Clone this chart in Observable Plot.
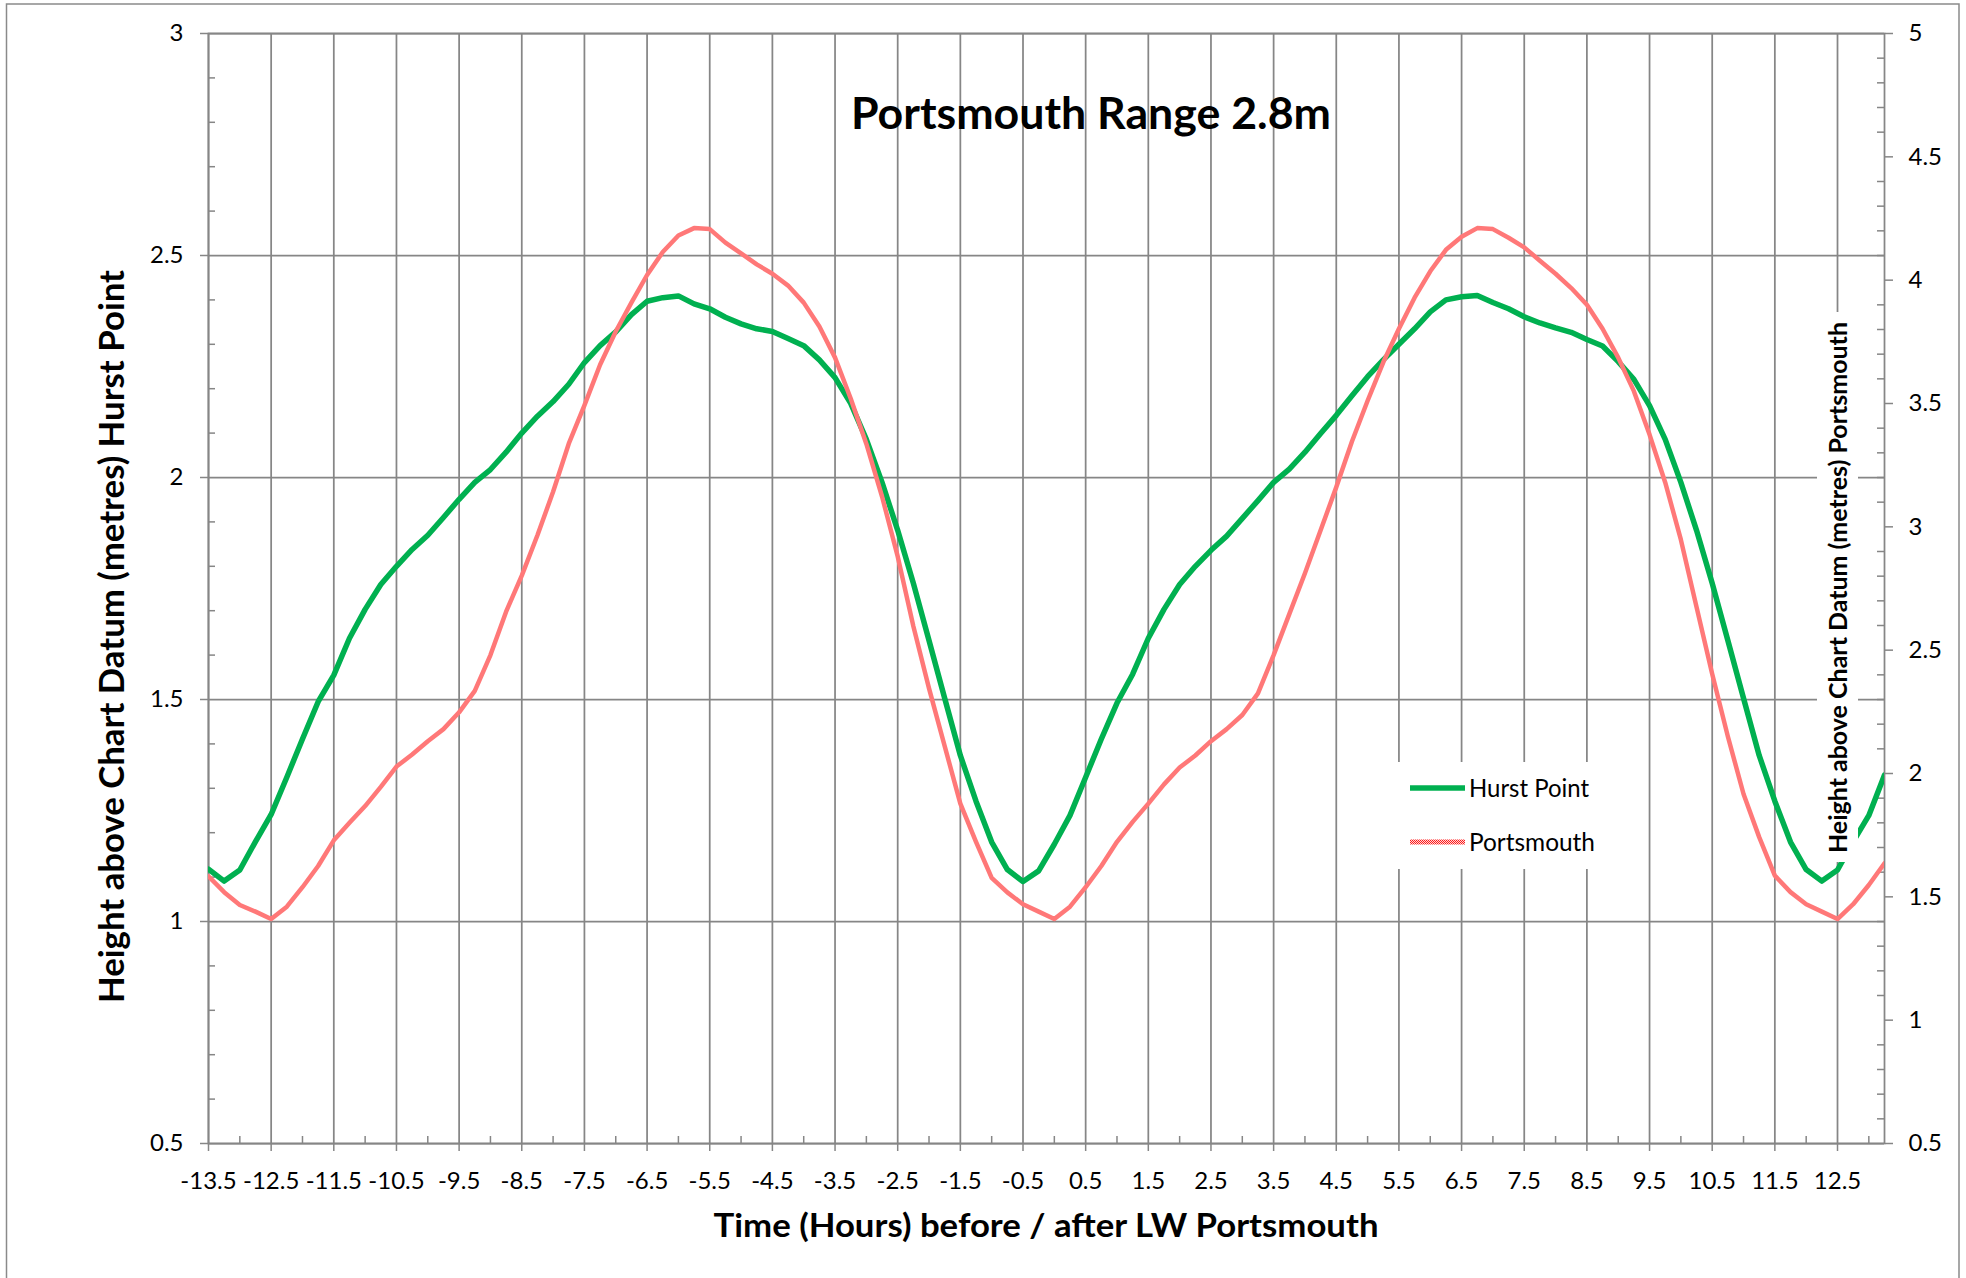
<!DOCTYPE html>
<html>
<head>
<meta charset="utf-8">
<script src="https://cdn.jsdelivr.net/npm/d3@7"></script>
<script src="https://cdn.jsdelivr.net/npm/@observablehq/plot@0.6"></script>
<style>
html, body { margin: 0; padding: 0; background: #fff; }
#chart { position: relative; width: 1966px; height: 1278px; overflow: hidden; }
</style>
</head>
<body>
<div id="chart"></div>
<script>
// ---- data ----
const hours = [-13.5,-13.25,-13,-12.75,-12.5,-12.25,-12,-11.75,-11.5,-11.25,-11,-10.75,-10.5,-10.25,-10,-9.75,-9.5,-9.25,-9,-8.75,-8.5,-8.25,-8,-7.75,-7.5,-7.25,-7,-6.75,-6.5,-6.25,-6,-5.75,-5.5,-5.25,-5,-4.75,-4.5,-4.25,-4,-3.75,-3.5,-3.25,-3,-2.75,-2.5,-2.25,-2,-1.75,-1.5,-1.25,-1,-0.75,-0.5,-0.25,0,0.25,0.5,0.75,1,1.25,1.5,1.75,2,2.25,2.5,2.75,3,3.25,3.5,3.75,4,4.25,4.5,4.75,5,5.25,5.5,5.75,6,6.25,6.5,6.75,7,7.25,7.5,7.75,8,8.25,8.5,8.75,9,9.25,9.5,9.75,10,10.25,10.5,10.75,11,11.25,11.5,11.75,12,12.25,12.5,12.75,13,13.25];

const hurstPoint = [
  1.118,1.091,1.116,1.180, 1.241,1.325,1.411,1.495, 1.555,1.638,1.703,1.759,
  1.800,1.838,1.870,1.910, 1.951,1.989,2.018,2.057, 2.100,2.138,2.171,2.210,
  2.259,2.297,2.328,2.367, 2.397,2.405,2.409,2.391, 2.380,2.361,2.346,2.335,
  2.329,2.313,2.297,2.265, 2.225,2.167,2.086,1.989, 1.881,1.762,1.633,1.503,
  1.374,1.271,1.179,1.117, 1.090,1.114,1.174,1.239, 1.325,1.411,1.492,1.557,
  1.638,1.703,1.759,1.800, 1.836,1.868,1.908,1.948, 1.989,2.019,2.057,2.099,
  2.140,2.184,2.227,2.265, 2.300,2.335,2.373,2.400, 2.407,2.410,2.394,2.380,
  2.362,2.348,2.337,2.327, 2.311,2.296,2.261,2.221, 2.162,2.086,1.989,1.881,
  1.762,1.633,1.503,1.374, 1.271,1.179,1.117,1.091, 1.116,1.180,1.239,1.330
];

const portsmouth = [
  1.583,1.519,1.467,1.440, 1.410,1.460,1.539,1.625, 1.729,1.800,1.868,1.946,
  2.028,2.077,2.131,2.180, 2.248,2.335,2.480,2.656, 2.802,2.966,3.142,3.337,
  3.492,3.657,3.792,3.909, 4.021,4.114,4.181,4.211, 4.207,4.152,4.109,4.064,
  4.026,3.978,3.909,3.812, 3.686,3.520,3.336,3.123, 2.880,2.597,2.345,2.111,
  1.878,1.723,1.577,1.518, 1.470,1.440,1.410,1.460, 1.539,1.625,1.723,1.804,
  1.878,1.956,2.024,2.073, 2.131,2.180,2.237,2.325, 2.480,2.646,2.812,2.986,
  3.161,3.346,3.511,3.667, 3.803,3.929,4.036,4.123, 4.176,4.211,4.207,4.172,
  4.133,4.079,4.026,3.968, 3.900,3.803,3.686,3.550, 3.374,3.180,2.948,2.675,
  2.403,2.150,1.917,1.742, 1.586,1.519,1.470,1.440, 1.410,1.470,1.548,1.636
];

const xTickLabels = ["-13.5","-12.5","-11.5","-10.5","-9.5","-8.5","-7.5","-6.5","-5.5","-4.5","-3.5","-2.5","-1.5","-0.5","0.5","1.5","2.5","3.5","4.5","5.5","6.5","7.5","8.5","9.5","10.5","11.5","12.5"];
const leftTickLabels = ["0.5","1","1.5","2","2.5","3"];
const rightTickLabels = ["0.5","1","1.5","2","2.5","3","3.5","4","4.5","5"];

const seriesNames = ["Hurst Point", "Portsmouth"];
const titleText = "Portsmouth Range 2.8m";
const xTitle = "Time (Hours) before / after LW Portsmouth";
const yLeftTitle = "Height above Chart Datum (metres) Hurst Point";
const yRightTitle = "Height above Chart Datum (metres) Portsmouth";

// ---- build ----
const leftDomain = [0.5, 3];
const rightDomain = [0.5, 5];
const toLeft = p => leftDomain[0] + (p - rightDomain[0]) * (leftDomain[1] - leftDomain[0]) / (rightDomain[1] - rightDomain[0]);
const toRight = v => rightDomain[0] + (v - leftDomain[0]) * (rightDomain[1] - rightDomain[0]) / (leftDomain[1] - leftDomain[0]);

const table = hours.map((h, i) => ({hour: h, hurst: hurstPoint[i], portsmouth: portsmouth[i]}));

const xMajor = xTickLabels.map(Number);
const leftMajor = leftTickLabels.map(Number);
const rightMajor = rightTickLabels.map(Number);
const xMinor = d3.range(-13, 13.01, 1);
const leftMinor = d3.range(5, 31).map(k => k / 10).filter(v => Math.abs(v * 2 - Math.round(v * 2)) > 1e-6);
const rightMinor = d3.range(5, 51).map(k => k / 10).filter(v => Math.abs(v * 2 - Math.round(v * 2)) > 1e-6);

const W = 1966, H = 1278, ML = 208, MR = 82, MT = 33, MB = 135;
const plotW = W - ML - MR, plotH = H - MT - MB;
const GRID = "#868686";
const gridStyle = {stroke: GRID, strokeOpacity: 1, strokeWidth: 1.75};
const tickStyle = {stroke: GRID, strokeWidth: 1.5};
const TICK_FONT = 24;

const GREEN = "#00B050";

const svg = Plot.plot({
  width: W, height: H,
  marginLeft: ML, marginRight: MR, marginTop: MT, marginBottom: MB,
  style: {fontFamily: "Lato, 'Open Sans', sans-serif", fontSize: "24px", color: "#000", background: "#fff", overflow: "visible"},
  x: {domain: [-13.5, 13.25]},
  y: {domain: leftDomain},
  marks: [
    Plot.gridX(xMajor, gridStyle),
    Plot.gridY(leftMajor, gridStyle),
    Plot.frame({stroke: GRID, strokeWidth: 1.75}),
    Plot.tickX(xMinor, {x: d => d, insetTop: plotH - 7, ...tickStyle}),
    Plot.tickY(leftMinor, {y: d => d, insetRight: plotW - 7, ...tickStyle}),
    Plot.tickY(rightMinor.map(toLeft), {y: d => d, insetLeft: plotW - 7, ...tickStyle}),
    Plot.axisX(xMajor, {anchor: "bottom", label: null, tickSize: 8, tickPadding: 20, tickFormat: d => String(d), stroke: GRID, strokeWidth: 1.5, fill: "#000", fontSize: TICK_FONT}),
    Plot.axisY(leftMajor, {anchor: "left", label: null, tickSize: 8, tickPadding: 17, tickFormat: d => String(d), stroke: GRID, strokeWidth: 1.5, fill: "#000", fontSize: TICK_FONT}),
    Plot.axisY(rightMajor.map(toLeft), {anchor: "right", label: null, tickSize: 8, tickPadding: 16, tickFormat: d => String(Math.round(toRight(d) * 10) / 10), stroke: GRID, strokeWidth: 1.5, fill: "#000", fontSize: TICK_FONT}),
    Plot.line(table, {x: "hour", y: "hurst", stroke: GREEN, strokeWidth: 5.5, strokeLinejoin: "round", clip: true}),
    Plot.line(table, {x: "hour", y: d => toLeft(d.portsmouth), stroke: "url(#pmPattern)", strokeWidth: 4.5, strokeLinejoin: "round", clip: true})
  ]
});

document.getElementById("chart").appendChild(svg);

const s = d3.select(svg);
// pattern for the textured Portsmouth line
const defs = s.insert("defs", ":first-child");
const pat = defs.append("pattern").attr("id", "pmPattern").attr("patternUnits", "userSpaceOnUse").attr("width", 2).attr("height", 2);
pat.append("rect").attr("width", 2).attr("height", 2).attr("fill", "#ffd6d6");
pat.append("rect").attr("x", 0).attr("y", 0).attr("width", 1).attr("height", 1).attr("fill", "#ff1a1a");
pat.append("rect").attr("x", 1).attr("y", 1).attr("width", 1).attr("height", 1).attr("fill", "#ff1a1a");

const overlay = s.append("g").attr("font-family", "Lato, 'Open Sans', sans-serif");

// outer chart border
overlay.append("rect").attr("x", 6.5).attr("y", 4).attr("width", 1952.5).attr("height", 1320)
  .attr("fill", "none").attr("stroke", "#8a8a8a").attr("stroke-width", 1.5);

// chart title
overlay.append("text").attr("x", 1091).attr("y", 129).attr("text-anchor", "middle")
  .attr("font-weight", 700).attr("font-size", 43).attr("textLength", 480).attr("lengthAdjust", "spacingAndGlyphs")
  .attr("fill", "#000").text(titleText);

// x axis title
overlay.append("text").attr("x", 1046).attr("y", 1237).attr("text-anchor", "middle")
  .attr("font-weight", 700).attr("font-size", 32).attr("textLength", 665).attr("lengthAdjust", "spacingAndGlyphs")
  .attr("fill", "#000").text(xTitle);

// left y axis title
overlay.append("text").attr("transform", "translate(124,636.5) rotate(-90)").attr("text-anchor", "middle")
  .attr("font-weight", 700).attr("font-size", 35).attr("textLength", 733).attr("lengthAdjust", "spacingAndGlyphs")
  .attr("fill", "#000").text(yLeftTitle);

// right y axis title (inside plot, white box)
overlay.append("rect").attr("x", 1817).attr("y", 312).attr("width", 41).attr("height", 550).attr("fill", "#fff");
overlay.append("text").attr("transform", "translate(1847,587.5) rotate(-90)").attr("text-anchor", "middle")
  .attr("font-weight", 700).attr("font-size", 24).attr("textLength", 531).attr("lengthAdjust", "spacingAndGlyphs")
  .attr("fill", "#000").text(yRightTitle);

// legend
const lg = overlay.append("g");
lg.append("rect").attr("x", 1393).attr("y", 762).attr("width", 217).attr("height", 107).attr("fill", "#fff");
const legendItems = [
  {name: seriesNames[0], stroke: GREEN, width: 5.5, cy: 788, len: 120},
  {name: seriesNames[1], stroke: "url(#pmPattern)", width: 5, cy: 842, len: 126}
];
legendItems.forEach(it => {
  lg.append("line").attr("x1", 1410).attr("x2", 1465).attr("y1", it.cy).attr("y2", it.cy)
    .attr("stroke", it.stroke).attr("stroke-width", it.width);
  lg.append("text").attr("x", 1469).attr("y", it.cy + 9).attr("text-anchor", "start").attr("font-size", 25)
    .attr("textLength", it.len).attr("lengthAdjust", "spacingAndGlyphs").attr("fill", "#000").text(it.name);
});
</script>
</body>
</html>
